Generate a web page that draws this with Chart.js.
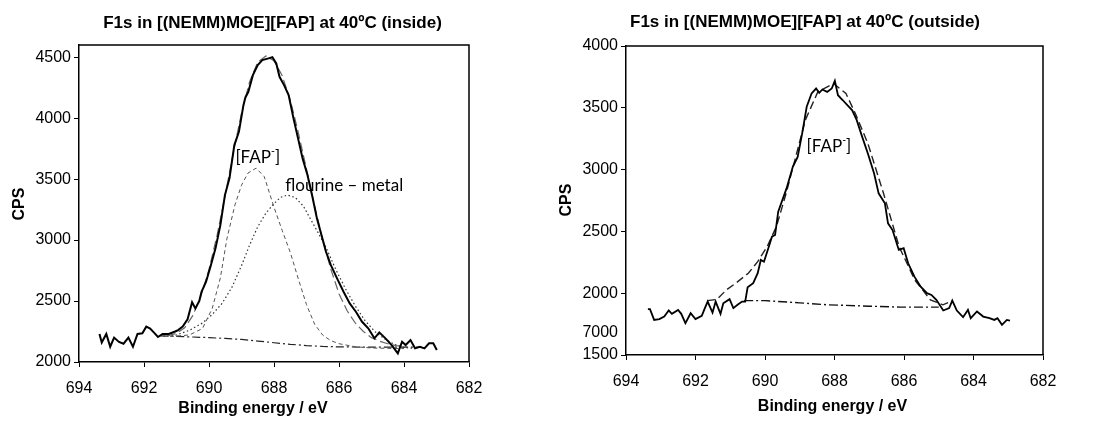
<!DOCTYPE html>
<html>
<head>
<meta charset="utf-8">
<script src="https://cdn.jsdelivr.net/npm/chart.js@4.4.1/dist/chart.umd.min.js"></script>
<style>
  body { margin: 0; background: #fff; }
  #wrap { position: relative; width: 1105px; height: 428px; }
  canvas { position: absolute; top: 0; }
</style>
</head>
<body>
<div id="wrap">
  <canvas id="cIn" width="545" height="428" style="left:0"></canvas>
  <canvas id="cOut" width="560" height="428" style="left:545px"></canvas>
</div>
<script>
// ---- inside panel: measured spectrum
const eIn = [693.37,693.30,693.16,693.04,692.92,692.77,692.63,692.48,692.34,692.20,692.05,691.93,691.81,691.67,691.57,691.43,691.24,691.04,690.95,690.81,690.66,690.52,690.42,690.30,690.23,690.09,689.94,689.80,689.65,689.51,689.37,689.22,689.08,688.94,688.88,688.79,688.65,688.50,688.36,688.17,688.05,687.93,687.83,687.69,687.55,687.40,687.26,687.12,686.97,686.83,686.68,686.54,686.40,686.25,686.06,685.86,685.67,685.48,685.29,685.10,684.91,684.76,684.57,684.38,684.19,684.06,683.95,683.80,683.66,683.51,683.37,683.23,683.10,682.99];
const cpsIn = [2230,2160,2230,2125,2200,2165,2150,2200,2125,2230,2235,2290,2275,2235,2205,2230,2230,2250,2262,2290,2350,2490,2440,2500,2576,2658,2795,2932,3123,3369,3506,3779,3888,4107,4170,4216,4353,4435,4476,4490,4500,4449,4339,4271,4189,3998,3834,3670,3533,3369,3178,3041,2904,2795,2686,2576,2481,2412,2330,2276,2194,2243,2194,2139,2071,2166,2139,2180,2112,2125,2112,2153,2153,2098];

// ---- inside panel: fitted envelope
const envInE = [691.30,691.00,690.75,690.50,690.25,690.00,689.75,689.50,689.25,689.00,688.75,688.50,688.25,688.00,687.75,687.50,687.25,687.00,686.75,686.50,686.25,686.00,685.75,685.50,685.25,685.00,684.75,684.50,684.25,684.00,683.90];
const envIn = [2212,2235,2280,2380,2540,2760,3040,3370,3720,4040,4300,4460,4510,4470,4350,4150,3880,3580,3280,3000,2760,2560,2420,2320,2250,2200,2170,2150,2135,2128,2125];

// ---- inside panel: [FAP-] component
const fapInE = [691.20,690.90,690.60,690.20,689.90,689.65,689.45,689.20,689.00,688.80,688.55,688.30,688.00,687.75,687.50,687.25,687.00,686.75,686.50,686.25,686.00,685.50,685.00,684.50,684.00];
const fapIn = [2210,2215,2222,2275,2440,2690,3010,3290,3450,3550,3590,3520,3270,3080,2900,2680,2470,2310,2220,2175,2150,2125,2115,2112,2110];

// ---- inside panel: fluorine-metal component
const metInE = [691.40,691.00,690.60,690.20,689.90,689.60,689.30,689.00,688.75,688.50,688.25,688.00,687.80,687.59,687.35,687.10,686.85,686.60,686.40,686.10,685.80,685.50,685.20,684.90,684.60,684.30,684.00,683.70];
const metIn = [2212,2222,2260,2320,2390,2480,2610,2790,2960,3110,3220,3300,3350,3369,3350,3280,3160,3040,2940,2760,2600,2460,2340,2250,2190,2145,2120,2112];

// ---- inside panel: background
const baseInE = [691.50,691.00,690.50,690.00,689.50,689.00,688.50,688.00,687.50,687.00,686.50,686.00,685.00,684.00,683.50];
const baseIn = [2215,2210,2205,2200,2193,2185,2172,2158,2145,2135,2128,2124,2122,2122,2122];

// ---- outside panel: measured spectrum
const eOut = [693.37,693.31,693.19,693.04,692.90,692.77,692.68,692.50,692.41,692.29,692.14,692.00,691.82,691.73,691.65,691.51,691.42,691.28,691.20,691.02,690.91,690.79,690.66,690.57,690.50,690.34,690.21,690.12,690.03,689.89,689.80,689.71,689.62,689.38,689.20,689.06,688.93,688.80,688.66,688.53,688.44,688.35,688.21,688.08,687.99,687.90,687.76,687.63,687.49,687.36,687.22,687.04,686.86,686.73,686.55,686.46,686.33,686.15,686.01,685.88,685.70,685.52,685.34,685.21,685.07,684.87,684.70,684.61,684.48,684.30,684.16,684.08,683.90,683.72,683.54,683.40,683.31,683.18,683.04,682.95];
const cpsOut = [1871,1871,1784,1790,1811,1860,1833,1865,1833,1758,1838,1790,1817,1879,1932,1843,1932,1833,1919,1952,1879,1906,1932,1932,2048,2081,2162,2269,2255,2376,2457,2471,2659,2848,3023,3103,3293,3508,3616,3656,3621,3648,3629,3656,3718,3602,3561,3521,3480,3400,3279,3131,2969,2808,2727,2565,2511,2350,2364,2242,2134,2053,2000,1986,1946,1860,1879,1940,1860,1806,1865,1798,1852,1811,1798,1784,1798,1744,1784,1779];

// ---- outside panel: fitted envelope and background
const envOutE = [691.66,691.38,691.11,690.84,690.48,690.21,689.94,689.67,689.40,689.10,688.84,688.48,688.03,687.67,687.40,687.04,686.59,686.14,685.69,685.24,684.88,684.60];
const envOut = [1940,1950,2027,2081,2162,2255,2376,2540,2800,3120,3400,3629,3697,3616,3454,3212,2808,2376,2107,1946,1906,1940];
const baseOutE = [690.60,690.00,689.00,688.20,687.00,686.10,685.00];
const baseOut = [1940,1940,1922,1906,1895,1887,1887];

// ---- ticks
const xTicks = [694, 692, 690, 688, 686, 684, 682];
const yTicksIn = [2000, 2500, 3000, 3500, 4000, 4500];
const yTicksOut = [1500, 1685, 2000, 2500, 3000, 3500, 4000];
const yLabelsOut = ['1500', '7000', '2000', '2500', '3000', '3500', '4000'];

const SANS = '"Liberation Sans", Arial, sans-serif';
const CAL = 'Lato, "Open Sans", sans-serif';
const tickFont = { family: SANS, size: 16 };

const pts = (xs, ys) => xs.map((x, i) => ({ x, y: ys[i] }));

function series(xs, ys, color, width, dash) {
    return { data: pts(xs, ys), borderColor: color, borderWidth: width, borderDash: dash || [],
             pointRadius: 0, fill: false, tension: 0 };
}

// frame (top + right edge of plot box)
const boxPlugin = {
    id: 'box',
    afterDraw(chart) {
        const { ctx, chartArea: a } = chart;
        ctx.save();
        ctx.strokeStyle = '#000';
        ctx.lineWidth = 1.5;
        ctx.beginPath();
        ctx.moveTo(a.left, a.top);
        ctx.lineTo(a.right, a.top);
        ctx.lineTo(a.right, a.bottom);
        ctx.stroke();
        ctx.restore();
    }
};

// titles, axis names and annotations
function textPlugin(items) {
    return {
        id: 'texts',
        afterDraw(chart) {
            const ctx = chart.ctx;
            items.forEach(it => {
                let x = it.x, y = it.y;
                if (it.ex !== undefined) {
                    x = chart.scales.x.getPixelForValue(it.ex);
                    y = chart.scales.y.getPixelForValue(it.ey);
                }
                ctx.save();
                ctx.fillStyle = '#000';
                ctx.textBaseline = 'middle';
                ctx.translate(x, y);
                if (it.rot) ctx.rotate(it.rot);
                if (it.sup) {
                    // "[FAP" + raised minus + "]"
                    const small = it.size * 0.62 + 'px ' + it.family;
                    const big = it.size + 'px ' + it.family;
                    ctx.font = big; const w1 = ctx.measureText(it.text).width;
                    const w3 = ctx.measureText(it.after).width;
                    ctx.font = small; const w2 = ctx.measureText(it.sup).width;
                    let cx = -(w1 + w2 + w3) / 2;
                    ctx.textAlign = 'left';
                    ctx.font = big; ctx.fillText(it.text, cx, 0); cx += w1;
                    ctx.font = small; ctx.fillText(it.sup, cx, -it.size * 0.3); cx += w2;
                    ctx.font = big; ctx.fillText(it.after, cx, 0);
                } else {
                    ctx.font = it.font;
                    ctx.textAlign = 'center';
                    ctx.fillText(it.text, 0, 0);
                }
                ctx.restore();
            });
        }
    };
}

function makeScales(yTicks, yLabels, yMin, yMax, yWidth, xHeight, hiddenTick) {
    return {
        x: {
            type: 'linear', reverse: true, min: 682, max: 694,
            afterBuildTicks: s => { s.ticks = xTicks.map(v => ({ value: v })); },
            afterFit: s => { s.height = xHeight; },
            ticks: { color: '#000', font: tickFont, padding: 12, maxRotation: 0, autoSkip: false,
                     callback: v => String(v) },
            grid: { drawOnChartArea: false, tickLength: 5, tickColor: '#000', tickWidth: 1 },
            border: { color: '#000', width: 1.5 }
        },
        y: {
            type: 'linear', min: yMin, max: yMax,
            afterBuildTicks: s => { s.ticks = yTicks.map(v => ({ value: v })); },
            afterFit: s => { s.width = yWidth; },
            ticks: { color: '#000', font: tickFont, padding: 3, autoSkip: false,
                     callback: (v, i) => yLabels[i] },
            grid: { drawOnChartArea: false, tickLength: 5, tickWidth: 1,
                    tickColor: c => (c.tick && c.tick.value === hiddenTick) ? 'rgba(0,0,0,0)' : '#000' },
            border: { color: '#000', width: 1.5 }
        }
    };
}

const baseOptions = (padding, scales) => ({
    responsive: false, animation: false, events: [],
    layout: { padding },
    plugins: { legend: { display: false }, tooltip: { enabled: false } },
    scales
});

new Chart(document.getElementById('cIn'), {
    type: 'line',
    data: { datasets: [
        series(eIn, cpsIn, '#000', 2),
        series(envInE, envIn, '#666', 1.2, [9, 4]),
        series(fapInE, fapIn, '#555', 1, [4, 3]),
        series(metInE, metIn, '#333', 1.2, [1.5, 2.5]),
        series(baseInE, baseIn, '#222', 1.2, [8, 3, 2, 3])
    ] },
    options: baseOptions({ top: 45, right: 76, left: 0, bottom: 0 },
        makeScales(yTicksIn, yTicksIn.map(String), 2000, 4600, 79, 66, null)),
    plugins: [boxPlugin, textPlugin([
        { text: 'F1s in [(NEMM)MOE][FAP] at 40ºC (inside)', x: 272.5, y: 23.5, font: 'bold 17px ' + SANS },
        { text: 'CPS', x: 20, y: 204, rot: -Math.PI / 2, font: 'bold 16px ' + SANS },
        { text: 'Binding energy / eV', x: 253, y: 409, font: 'bold 16px ' + SANS },
        { text: '[FAP', sup: '-', after: ']', ex: 688.5, ey: 3680, size: 17, family: CAL },
        { text: 'flourine – metal', ex: 685.84, ey: 3451, font: '17px ' + CAL }
    ])]
});

new Chart(document.getElementById('cOut'), {
    type: 'line',
    data: { datasets: [
        series(eOut, cpsOut, '#000', 1.8),
        series(envOutE, envOut, '#222', 1.4, [8, 4]),
        series(baseOutE, baseOut, '#111', 1.4, [9, 3, 2, 3])
    ] },
    options: baseOptions({ top: 46, right: 62, left: 0, bottom: 0 },
        makeScales(yTicksOut, yLabelsOut, 1500, 4000, 81, 73, 1685)),
    plugins: [boxPlugin, textPlugin([
        { text: 'F1s in [(NEMM)MOE][FAP] at 40ºC (outside)', x: 260, y: 22, font: 'bold 17px ' + SANS },
        { text: 'CPS', x: 21.5, y: 200, rot: -Math.PI / 2, font: 'bold 16px ' + SANS },
        { text: 'Binding energy / eV', x: 287.5, y: 407, font: 'bold 16px ' + SANS },
        { text: '[FAP', sup: '-', after: ']', ex: 688.16, ey: 3190, size: 17, family: CAL }
    ])]
});
</script>
</body>
</html>
